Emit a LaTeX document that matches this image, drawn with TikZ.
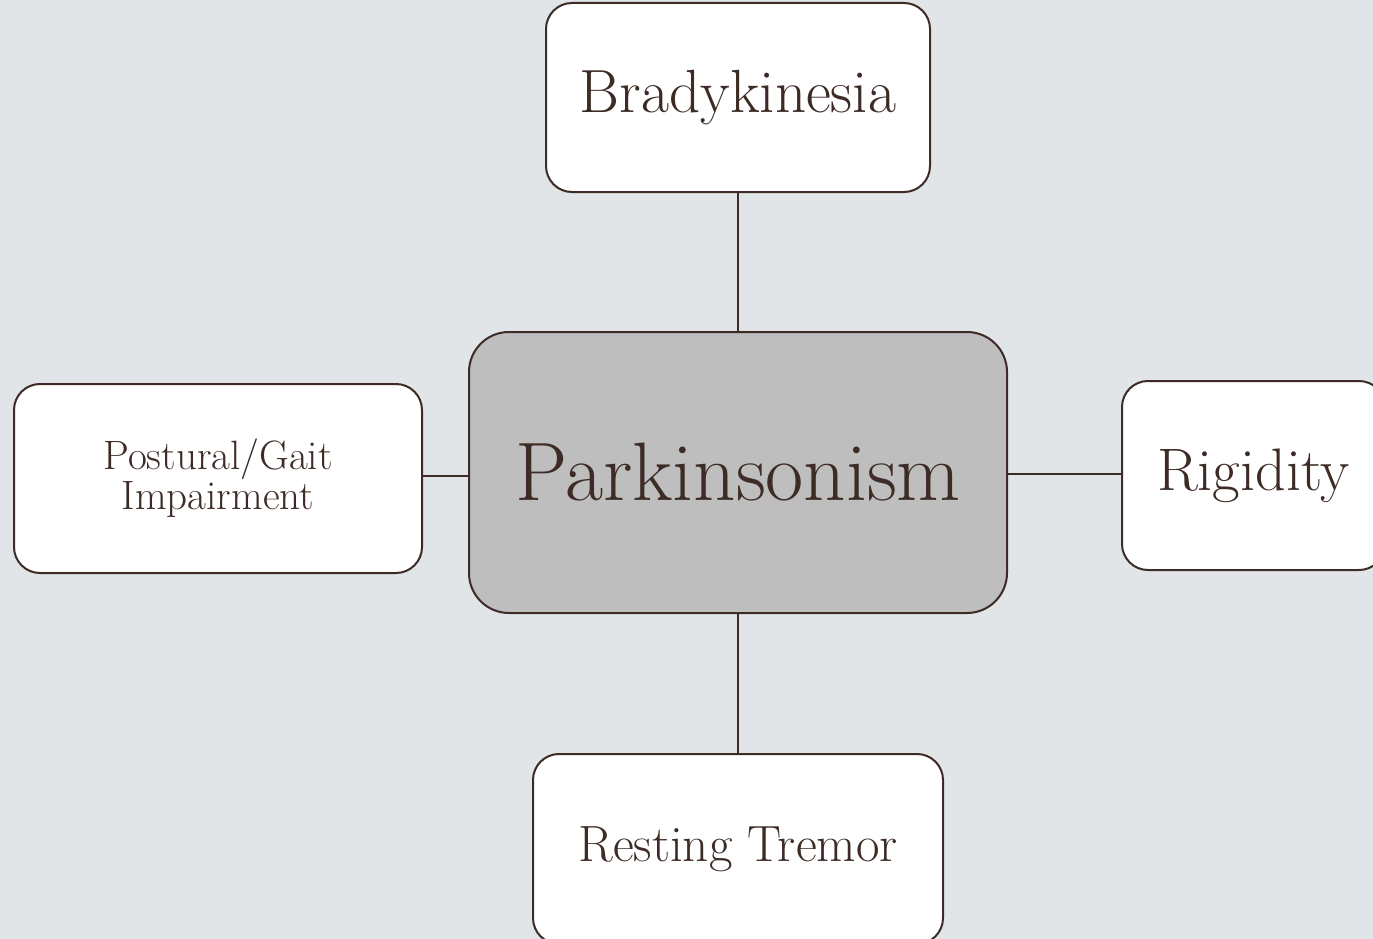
\documentclass[tikz,border=0pt]{standalone}
\definecolor{bg}{HTML}{E1E5E8}
\definecolor{ink}{HTML}{3D2B25}
\definecolor{core}{HTML}{BEBEBE}
\tikzset{
  box/.style={draw=ink, line width=2pt, fill=white, rounded corners=26pt, text=ink, align=center, inner sep=0pt},
  link/.style={draw=ink, line width=2pt},
}
\begin{document}
\begin{tikzpicture}[x=1pt,y=-1pt]
\fill[bg] (0,0) rectangle (1373,939);
\useasboundingbox (0,0) rectangle (1373,939);
\clip (0,0) rectangle (1373,939);
\node[box, minimum width=384pt, minimum height=189pt] (brady) at (738,97.5) {\fontsize{61}{66}\selectfont Bradykinesia};
\node[box, fill=core, rounded corners=40pt, minimum width=538pt, minimum height=281pt] (park) at (738,472.5) {\fontsize{83}{90}\selectfont Parkinsonism};
\node[box, minimum width=408pt, minimum height=189pt, font=\fontsize{41}{40}\selectfont] (post) at (218,478.5) {Postural/Gait\\Impairment};
\node[box, minimum width=263pt, minimum height=189pt] (rig) at (1253.5,475.5) {\fontsize{60}{66}\selectfont Rigidity};
\node[box, minimum width=410pt, minimum height=190pt] (rest) at (738,849) {\fontsize{51}{56}\selectfont Resting Tremor};
\draw[link] (brady.south) -- (park.north);
\draw[link] (park.south) -- (rest.north);
\draw[link] (post.east |- 0,476) -- (park.west |- 0,476);
\draw[link] (park.east |- 0,474) -- (rig.west |- 0,474);
\end{tikzpicture}
\end{document}
